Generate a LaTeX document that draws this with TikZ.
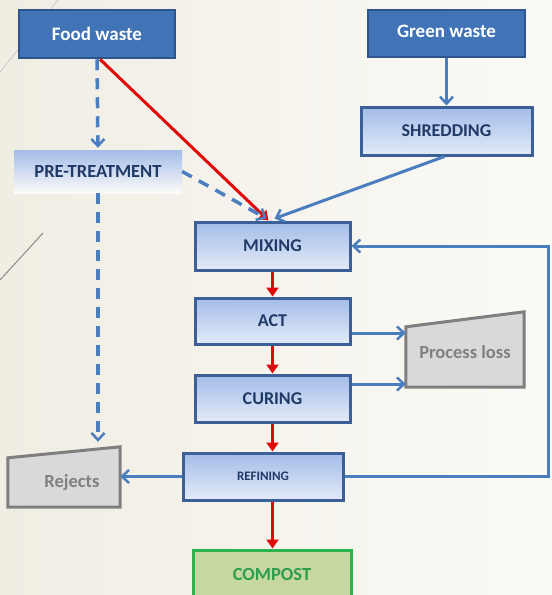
\documentclass[tikz,border=0pt]{standalone}
\usepackage{fontspec}
\setmainfont{Carlito}
\usetikzlibrary{arrows.meta}

\definecolor{bgleft}{HTML}{F0EDE3}
\definecolor{bgright}{HTML}{FBFAF6}
\definecolor{darkfill}{HTML}{4174B6}
\definecolor{darkedge}{HTML}{2E568C}
\definecolor{stepedge}{HTML}{3B5F96}
\definecolor{steptop}{HTML}{A3BCE8}
\definecolor{stepbot}{HTML}{E3EBF8}
\definecolor{steptext}{HTML}{1F3A66}
\definecolor{flowblue}{HTML}{4A7EBE}
\definecolor{flowred}{HTML}{E00A0A}
\definecolor{lossfill}{HTML}{D9D9D9}
\definecolor{lossedge}{HTML}{7F7F7F}
\definecolor{losstext}{HTML}{808080}
\definecolor{compfill}{HTML}{C6D7A2}
\definecolor{compedge}{HTML}{2DB34E}
\definecolor{comptext}{HTML}{2E9E4A}
\definecolor{decoline}{HTML}{8C8A84}

\tikzset{
  sourcebox/.style={draw=darkedge, line width=2.5pt, fill=darkfill,
    text=white, font=\bfseries\fontsize{19}{21}\selectfont},
  stepbox/.style={draw=stepedge, line width=3pt,
    top color=steptop, bottom color=stepbot,
    text=steptext, font=\bfseries\fontsize{18}{20}\selectfont},
  softbox/.style={top color=steptop, bottom color=bgright!70!white,
    text=steptext, font=\bfseries\fontsize{18.5}{20}\selectfont},
  lossbox/.style={draw=lossedge, line width=3pt, fill=lossfill},
  losslabel/.style={text=losstext, font=\bfseries\fontsize{18.5}{20}\selectfont},
  compbox/.style={draw=compedge, line width=3pt, fill=compfill,
    text=comptext, font=\bfseries\fontsize{18.5}{20}\selectfont},
  blueflow/.style={draw=flowblue, line width=3pt,
    -{Straight Barb[length=7pt,width=13pt,line width=2.5pt]}},
  dashflow/.style={blueflow, line width=3.5pt, dash pattern=on 11pt off 8pt},
  redflow/.style={draw=flowred, line width=3pt,
    -{Triangle[length=9pt,width=12pt]}},
  bluerun/.style={draw=flowblue, line width=3pt},
}

\begin{document}
\begin{tikzpicture}[x=1pt, y=-1pt]
  % page and background
  \useasboundingbox (0,0) rectangle (552,595);
  \shade[left color=bgleft, right color=bgright] (0,0) rectangle (552,595);

  % thin decorative strokes
  \draw[decoline!45, line width=0.8pt] (0,72) -- (58,0);
  \draw[decoline, line width=1pt] (0,280) -- (43,233);

  % inputs
  \node[sourcebox, minimum width=156pt, minimum height=48pt] (food) at (97,34) {Food waste};
  \node[sourcebox, minimum width=157pt, minimum height=47pt] (green) at (446.5,33.5) {\raisebox{5pt}{Green waste}};

  % preparation
  \node[stepbox, minimum width=171pt, minimum height=48pt] (shred) at (446.5,131) {SHREDDING};
  \node[softbox, minimum width=168pt, minimum height=43pt] (pre) at (98,171.5) {PRE-TREATMENT};

  % main process line
  \node[stepbox, minimum width=155pt, minimum height=48pt] (mix) at (272.5,246) {MIXING};
  \node[stepbox, minimum width=155pt, minimum height=46pt] (act) at (272.5,321) {ACT};
  \node[stepbox, minimum width=155pt, minimum height=47pt] (cur) at (272.5,398.5) {CURING};
  \node[stepbox, minimum width=160pt, minimum height=47pt,
        font=\bfseries\fontsize{13}{15}\selectfont] (ref) at (263,476.5) {REFINING};
  \node[compbox, minimum width=158pt, minimum height=50pt] (comp) at (272,575) {\raisebox{2pt}{COMPOST}};

  % losses
  \node[minimum width=118pt, minimum height=75pt, inner sep=0pt] (loss) at (465,349.5) {};
  \draw[lossbox] (loss.south west) -- (loss.south east) -- (loss.north east)
    -- ([yshift=-15pt]loss.north west) -- cycle;
  \node[losslabel] at ([yshift=-3pt]loss.center) {Process loss};

  \node[minimum width=112pt, minimum height=60pt, inner sep=0pt] (rej) at (64,477) {};
  \draw[lossbox] (rej.south west) -- (rej.south east) -- (rej.north east)
    -- ([yshift=-11pt]rej.north west) -- cycle;
  \node[losslabel] at ([xshift=8pt,yshift=-6pt]rej.center) {Rejects};

  % feed connectors
  \draw[dashflow, shorten >=2pt] (food.south) -- (pre.north);
  \draw[redflow] ([xshift=3pt]food.south) -- ([xshift=-4pt]mix.north);
  \draw[dashflow] (pre.east) -- ([xshift=-6pt,yshift=2pt]mix.north);
  \draw[blueflow] (green.south) -- (shred.north);
  \draw[blueflow] ([xshift=-2pt]shred.south) -- ([xshift=2pt,yshift=2pt]mix.north);
  \draw[dashflow, shorten >=5pt] (pre.south) -- (pre.south |- rej.north);

  % main line
  \draw[redflow] (mix.south) -- (act.north);
  \draw[redflow] (act.south) -- (act.south |- cur.north);
  \draw[redflow] (act.south |- cur.south) -- (act.south |- ref.north);
  \draw[redflow] (act.south |- ref.south) -- (act.south |- comp.north);

  % side streams
  \draw[blueflow] ([yshift=-12pt]act.east) -- ([yshift=-12pt]act.east -| loss.west);
  \draw[blueflow] ([yshift=14.5pt]cur.east) -- ([yshift=14.5pt]cur.east -| loss.west);
  \draw[blueflow] (ref.west) -- (ref.west -| rej.east);

  % recirculation of oversize
  \coordinate (loop) at (548,360);
  \draw[bluerun] (ref.east) -| (loop);
  \draw[blueflow] (loop) |- (mix.east);
\end{tikzpicture}
\end{document}
